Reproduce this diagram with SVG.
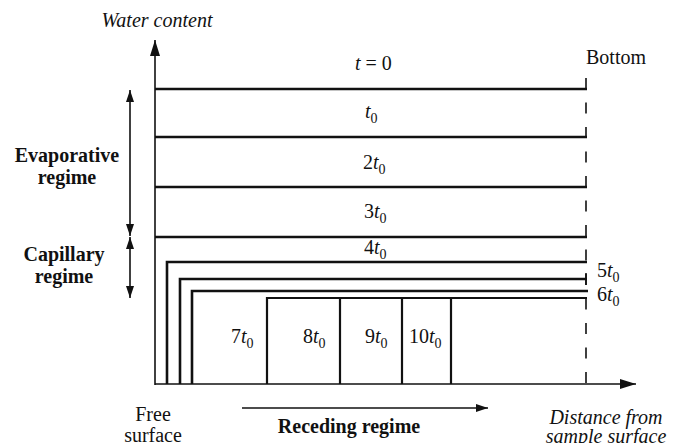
<svg xmlns="http://www.w3.org/2000/svg" width="674" height="443" viewBox="0 0 674 443">
<style>
text{font-family:'Liberation Serif','DejaVu Serif','Times New Roman',serif;font-size:20px;fill:#111}
.it{font-style:italic}
.b{font-weight:bold}
.sub{font-size:14px;font-style:normal}
.ax{stroke:#111;stroke-width:1.6;fill:none}
.ln{stroke:#111;stroke-width:2.6;fill:none}
.ln2{stroke:#111;stroke-width:2.2;fill:none}
</style>
<defs>
<marker id="ah" viewBox="0 0 16 10" refX="16" refY="5" markerWidth="16" markerHeight="10" markerUnits="userSpaceOnUse" orient="auto"><path d="M0,0L16,5L0,10z" fill="#111"/></marker>
<marker id="ahs" viewBox="0 0 12 8" refX="12" refY="4" markerWidth="12" markerHeight="8" markerUnits="userSpaceOnUse" orient="auto"><path d="M0,0L12,4L0,8z" fill="#111"/></marker>
</defs>
<g id="connectors">
<line class="ax" x1="155" y1="385" x2="155" y2="40" marker-end="url(#ah)"/>
<line class="ax" x1="155" y1="384" x2="636" y2="384" marker-end="url(#ah)"/>
<line x1="586" y1="78" x2="586" y2="384" stroke="#111" stroke-width="1.6" stroke-dasharray="11 13.5"/>
<line class="ax" x1="130" y1="163" x2="130" y2="90" marker-end="url(#ahs)"/>
<line class="ax" x1="130" y1="163" x2="130" y2="236" marker-end="url(#ahs)"/>
<line class="ax" x1="130" y1="268" x2="130" y2="237" marker-end="url(#ahs)"/>
<line class="ax" x1="130" y1="268" x2="130" y2="298" marker-end="url(#ahs)"/>
<line class="ax" x1="242" y1="408" x2="488" y2="408" marker-end="url(#ahs)"/>
</g>
<g id="t0line"><line class="ln" x1="155" y1="89" x2="587" y2="89"/><text x="355" y="70"><tspan class="it">t</tspan> = 0</text></g>
<g id="t1line"><line class="ln" x1="155" y1="137" x2="587" y2="137"/><text x="365" y="118"><tspan class="it">t</tspan><tspan class="sub" dy="5">0</tspan></text></g>
<g id="t2line"><line class="ln" x1="155" y1="187" x2="587" y2="187"/><text x="363" y="169">2<tspan class="it">t</tspan><tspan class="sub" dy="5">0</tspan></text></g>
<g id="t3line"><line class="ln" x1="155" y1="237" x2="587" y2="237"/><text x="364" y="218">3<tspan class="it">t</tspan><tspan class="sub" dy="5">0</tspan></text></g>
<g id="t4line"><path class="ln" d="M167,384V262H587"/><text x="364" y="254">4<tspan class="it">t</tspan><tspan class="sub" dy="5">0</tspan></text></g>
<g id="t5line"><path class="ln" d="M180,384V279H587"/><line class="ax" x1="586" y1="273" x2="586" y2="285"/><text x="597" y="277">5<tspan class="it">t</tspan><tspan class="sub" dy="5">0</tspan></text></g>
<g id="t6line"><path class="ln" d="M192,384V291H588"/><text x="597" y="301">6<tspan class="it">t</tspan><tspan class="sub" dy="5">0</tspan></text></g>
<g id="t7line"><path class="ln2" d="M267,384V298H587"/><text x="231" y="343">7<tspan class="it">t</tspan><tspan class="sub" dy="5">0</tspan></text></g>
<g id="t8line"><line class="ln2" x1="340" y1="298" x2="340" y2="384"/><text x="303" y="343">8<tspan class="it">t</tspan><tspan class="sub" dy="5">0</tspan></text></g>
<g id="t9line"><line class="ln2" x1="402" y1="298" x2="402" y2="384"/><text x="365" y="343">9<tspan class="it">t</tspan><tspan class="sub" dy="5">0</tspan></text></g>
<g id="t10line"><line class="ln2" x1="451" y1="298" x2="451" y2="384"/><text x="409" y="343">10<tspan class="it">t</tspan><tspan class="sub" dy="5">0</tspan></text></g>
<g id="labels">
<text class="it" x="157" y="27" text-anchor="middle">Water content</text>
<text x="586" y="64">Bottom</text>
<text class="b" x="67" y="162" text-anchor="middle">Evaporative</text>
<text class="b" x="67" y="184" text-anchor="middle">regime</text>
<text class="b" x="64" y="261" text-anchor="middle">Capillary</text>
<text class="b" x="64" y="283" text-anchor="middle">regime</text>
<text x="153" y="421" text-anchor="middle">Free</text>
<text x="153" y="442" text-anchor="middle">surface</text>
<text class="b" x="349" y="433" text-anchor="middle">Receding regime</text>
<text class="it" x="606" y="424" text-anchor="middle">Distance from</text>
<text class="it" x="606" y="443" text-anchor="middle">sample surface</text>
</g>
</svg>
